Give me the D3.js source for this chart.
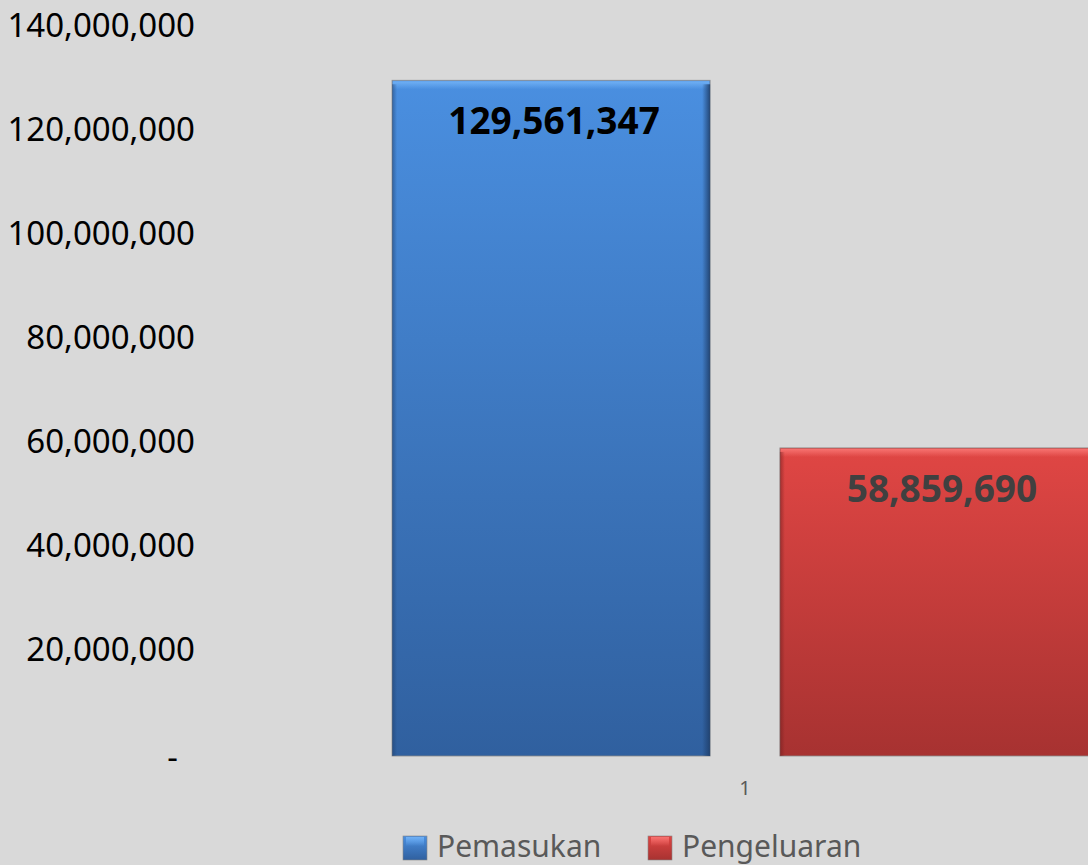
<!DOCTYPE html>
<html>
<head>
<meta charset="utf-8">
<script src="https://cdn.jsdelivr.net/npm/d3@7"></script>
<style>
  html, body { margin: 0; padding: 0; background: #d9d9d9; overflow: hidden; }
  svg { display: block; font-family: "Noto Sans", "Open Sans", sans-serif; }
</style>
</head>
<body>
<svg id="chart"></svg>
<script>
// Data
const categories = ["1"];
const seriesNames = ["Pemasukan", "Pengeluaran"];
const pemasukan = [129561347];
const pengeluaran = [58859690];
const yTicks = [0, 20000000, 40000000, 60000000, 80000000, 100000000, 120000000, 140000000];

const seriesValues = [pemasukan, pengeluaran];
const colors = [
    { top: "#4a8fe0", bottom: "#30609f", hi: "#6fb0f5", dark: "#1f3f6b", label: "#000000" },
    { top: "#e04644", bottom: "#a73231", hi: "#f77270", dark: "#6e1d1d", label: "#404040" }
];

const width = 1088;
const height = 865;
const plotLeft = 205, plotRight = 1285;
const plotTop = 26, plotBottom = 754;

const svg = d3.select("#chart")
    .attr("width", width)
    .attr("height", height);

svg.append("rect").attr("width", width).attr("height", height).attr("fill", "#d9d9d9");

// Gradients
const defs = svg.append("defs");
colors.forEach((c, i) => {
    const g = defs.append("linearGradient")
        .attr("id", "grad" + i).attr("x1", 0).attr("y1", 0).attr("x2", 0).attr("y2", 1);
    g.append("stop").attr("offset", "0%").attr("stop-color", c.top);
    g.append("stop").attr("offset", "100%").attr("stop-color", c.bottom);
    const s = defs.append("linearGradient")
        .attr("id", "side" + i).attr("x1", 0).attr("y1", 0).attr("x2", 1).attr("y2", 0);
    s.append("stop").attr("offset", "0%").attr("stop-color", c.dark).attr("stop-opacity", 0);
    s.append("stop").attr("offset", "100%").attr("stop-color", c.dark).attr("stop-opacity", 0.9);
    const t = defs.append("linearGradient")
        .attr("id", "topg" + i).attr("x1", 0).attr("y1", 0).attr("x2", 0).attr("y2", 1);
    t.append("stop").attr("offset", "0%").attr("stop-color", c.hi).attr("stop-opacity", 1);
    t.append("stop").attr("offset", "100%").attr("stop-color", c.hi).attr("stop-opacity", 0);
});

// Scales
const x0 = d3.scaleBand()
    .domain(categories)
    .range([plotLeft, plotRight])
    .paddingInner(0)
    .paddingOuter(0.265);

const x1 = d3.scaleBand()
    .domain(seriesNames)
    .range([0, x0.bandwidth()])
    .paddingInner(0.18)
    .paddingOuter(0);

const y = d3.scaleLinear()
    .domain([0, 140000000])
    .range([plotBottom, plotTop]);

// Y axis
const yAxis = d3.axisLeft(y)
    .tickValues(yTicks)
    .tickSize(0)
    .tickPadding(10)
    .tickFormat(d => d === 0 ? "-" : d3.format(",")(d));

const yg = svg.append("g")
    .attr("transform", `translate(${plotLeft}, 0)`)
    .call(yAxis);
yg.select(".domain").remove();
yg.selectAll("text")
    .attr("font-size", 33)
    .attr("font-family", "'Noto Sans', sans-serif")
    .attr("fill", "#000")
    .attr("dx", d => d === 0 ? -17 : 0)
    .attr("dy", d => d === 0 ? "0.45em" : "0.32em");

// X axis
const xAxis = d3.axisBottom(x0).tickSize(0).tickPadding(27);
const xg = svg.append("g")
    .attr("transform", `translate(0, ${plotBottom})`)
    .call(xAxis);
xg.select(".domain").remove();
xg.selectAll("text")
    .attr("font-size", 20)
    .attr("font-family", "'Noto Sans', sans-serif")
    .attr("fill", "#595959");

// Bars
const bars = [];
categories.forEach((cat, ci) => {
    seriesNames.forEach((s, si) => {
        bars.push({ cat, series: s, si, value: seriesValues[si][ci] });
    });
});

const barG = svg.selectAll(".bar")
    .data(bars)
    .enter()
    .append("g")
    .attr("class", "bar")
    .attr("transform", d => `translate(${x0(d.cat) + x1(d.series)}, 0)`);

barG.append("rect")
    .attr("x", 0)
    .attr("y", d => y(d.value))
    .attr("width", x1.bandwidth())
    .attr("height", d => y(0) - y(d.value) + 2)
    .attr("fill", d => `url(#grad${d.si})`)
    .attr("stroke", "#8a8a8a")
    .attr("stroke-width", 0.8);

// bevel: top highlight, side shading
barG.append("rect")
    .attr("x", 1)
    .attr("y", d => y(d.value) + 1)
    .attr("width", x1.bandwidth() - 2)
    .attr("height", 8)
    .attr("fill", d => `url(#topg${d.si})`);

barG.append("rect")
    .attr("x", x1.bandwidth() - 8)
    .attr("y", d => y(d.value) + 4)
    .attr("width", 8)
    .attr("height", d => y(0) - y(d.value) - 2)
    .attr("fill", d => `url(#side${d.si})`);

barG.append("rect")
    .attr("x", 0)
    .attr("y", d => y(d.value) + 4)
    .attr("width", 5)
    .attr("height", d => y(0) - y(d.value) - 2)
    .attr("fill", d => `url(#side${d.si})`)
    .attr("opacity", 0.6)
    .attr("transform", d => `translate(5,0) scale(-1,1)`);

// Value labels
barG.append("text")
    .attr("x", x1.bandwidth() / 2 + 3)
    .attr("y", d => y(d.value) + 54)
    .attr("text-anchor", "middle")
    .attr("font-size", 37)
    .attr("font-weight", "bold")
    .attr("fill", d => colors[d.si].label)
    .text(d => d3.format(",")(d.value));

// Legend
const legendX = [403, 648];
const legend = svg.selectAll(".legend")
    .data(seriesNames)
    .enter()
    .append("g")
    .attr("class", "legend")
    .attr("transform", (d, i) => `translate(${legendX[i]}, 836)`);

legend.append("rect")
    .attr("width", 24)
    .attr("height", 24)
    .attr("fill", (d, i) => `url(#grad${i})`)
    .attr("stroke", "#888")
    .attr("stroke-width", 0.6);
legend.append("rect")
    .attr("x", 3).attr("y", 1)
    .attr("width", 18)
    .attr("height", 9)
    .attr("fill", (d, i) => `url(#topg${i})`);

legend.append("text")
    .attr("x", 34)
    .attr("y", 21)
    .attr("font-size", 30)
    .attr("fill", "#595959")
    .text(d => d);
</script>
</body>
</html>
